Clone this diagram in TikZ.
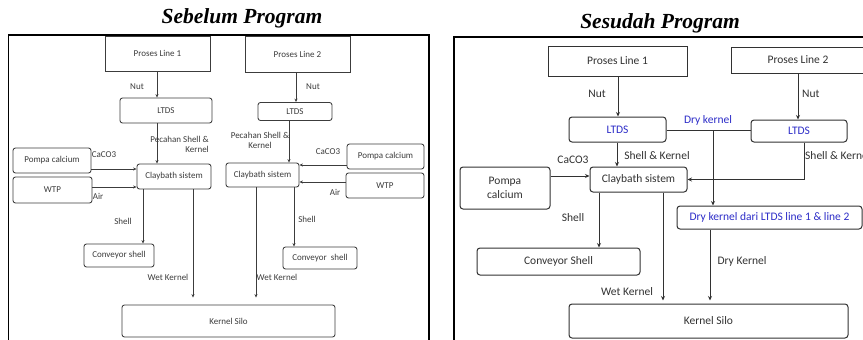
\documentclass[tikz,border=0pt]{standalone}
\usepackage{fontspec}
\setmainfont{Carlito}
\newfontfamily\titlefont{Liberation Serif}
\usetikzlibrary{arrows.meta}
\definecolor{ink}{RGB}{50,50,50}
\definecolor{lteal}{RGB}{60,60,60}
\definecolor{dkblue}{RGB}{45,45,200}
\tikzset{
  smallfont/.style={font=\fontsize{9}{10.5}\selectfont},
  bigfont/.style={font=\fontsize{11.5}{13.5}\selectfont},
  lbox/.style={draw=lteal, line width=0.85pt, rounded corners=2.5pt, inner sep=0pt,
    text=lteal, smallfont},
  lsq/.style={lbox, rounded corners=0pt},
  llbl/.style={inner sep=0pt, text=lteal, smallfont},
  larr/.style={draw=lteal, line width=0.85pt, -{Stealth[length=3.5pt,width=3pt]}},
  rbox/.style={draw=ink, line width=1pt, rounded corners=3pt, inner sep=0pt,
    text=ink, bigfont},
  rsq/.style={rbox, rounded corners=0pt},
  rlbl/.style={inner sep=0pt, text=ink, bigfont},
  rline/.style={draw=ink, line width=1pt},
  rarr/.style={rline, -{Stealth[length=4.5pt,width=4pt]}},
  frame/.style={draw=black, line width=1.4pt},
  heading/.style={inner sep=0pt, font=\titlefont\bfseries\itshape\fontsize{21.5}{24}\selectfont}
}
\begin{document}
\begin{tikzpicture}[x=1pt,y=-1pt]
\useasboundingbox (0,0) rectangle (863,340);
\clip (0,0) rectangle (863,340);
\fill[white] (0,0) rectangle (863,340);

% ---------------- before the programme ----------------
\node[heading] (t1) at (242,18) {Sebelum Program};
\draw[frame] (8.5,35) rectangle (429,360);

\node[lsq, minimum width=105pt, minimum height=35pt] (p1) at (157.5,53.5) {Proses Line 1};
\node[lsq, minimum width=105pt, minimum height=36pt] (p2) at (297.5,54) {Proses Line 2};
\node[lbox, minimum width=92pt, minimum height=25pt] (l1) at (166,110.5) {LTDS};
\node[lbox, minimum width=74pt, minimum height=18pt] (l2) at (295,111.5) {LTDS};
\node[lbox, minimum width=74pt, minimum height=25pt] (c1) at (174,176.5) {Claybath sistem};
\node[lbox, minimum width=73pt, minimum height=24pt] (c2) at (262.5,175) {Claybath sistem};
\node[lbox, minimum width=78pt, minimum height=25pt] (pc1) at (52,160.5) {Pompa calcium};
\node[lbox, minimum width=79pt, minimum height=26pt] (w1) at (52.5,190) {WTP};
\node[lbox, minimum width=77pt, minimum height=25pt] (pc2) at (385.5,156.5) {Pompa calcium};
\node[lbox, minimum width=78pt, minimum height=25pt] (w2) at (385,185.5) {WTP};
\node[lbox, minimum width=70pt, minimum height=23pt] (cs1) at (119,255.5) {Conveyor shell};
\node[lbox, minimum width=74pt, minimum height=22pt] (cs2) at (320,258) {Conveyor\ \ shell};
\node[lbox, minimum width=213pt, minimum height=32pt] (ks) at (228.5,321) {Kernel Silo};

\draw[larr] (p1.south -| 157,0) -- (l1.north -| 157,0);
\draw[larr] (p2.south -| 296,0) -- (l2.north -| 296,0);
\draw[larr] (l1.south -| 157,0) -- (c1.north -| 157,0);
\draw[larr] (l2.south -| 289,0) -- (c2.north -| 289,0);
\draw[larr] (pc1.east |- 0,169) -- (c1.west |- 0,169);
\draw[larr] (w1.east |- 0,187) -- (c1.west |- 0,187);
\draw[larr] (pc2.west |- 0,165) -- (c2.east |- 0,165);
\draw[larr] (w2.west |- 0,182) -- (c2.east |- 0,182);
\draw[larr] (c1.south -| 143,0) -- (cs1.north -| 143,0);
\draw[larr] (c2.south -| 294,0) -- (cs2.north -| 294,0);
\draw[larr, shorten >=7pt] (c1.south -| 193,0) -- (ks.north -| 193,0);
\draw[larr, shorten >=7pt] (c2.south -| 256,0) -- (ks.north -| 256,0);

\node[llbl] (n1) at (137,87) {Nut};
\node[llbl] (n2) at (313,87) {Nut};
\node[llbl, align=right, anchor=east] (pk1) at (209,144.5) {Pecahan Shell \&\\Kernel};
\node[llbl, align=center] (pk2) at (260,140.5) {Pecahan Shell \&\\Kernel};
\node[llbl] (ca1) at (104,155) {CaCO3};
\node[llbl] (a1) at (98,196) {Air};
\node[llbl] (ca2) at (328,152) {CaCO3};
\node[llbl] (a2) at (335,192) {Air};
\node[llbl] (s1) at (123,221) {Shell};
\node[llbl] (s2) at (307,219) {Shell};
\node[llbl] (wk1) at (168,277) {Wet Kernel};
\node[llbl] (wk2) at (277,277) {Wet Kernel};

% ---------------- after the programme ----------------
\node[heading] (t2) at (660,23) {Sesudah Program};
\draw[frame] (454,37) rectangle (900,360);

\node[rsq, minimum width=139pt, minimum height=30pt] (rp1) at (617.5,61) {Proses Line 1};
\node[rsq, minimum width=134pt, minimum height=26pt] (rp2) at (798,60) {Proses Line 2};
\node[rbox, text=dkblue, minimum width=97pt, minimum height=25pt] (rl1) at (617.5,129.5) {LTDS};
\node[rbox, text=dkblue, minimum width=96pt, minimum height=22pt] (rl2) at (799,131) {LTDS};
\node[rbox, minimum width=97pt, minimum height=25pt] (rc) at (638.5,179.5) {Claybath sistem};
\node[rbox, align=center, minimum width=90pt, minimum height=42pt] (rpc) at (505,188) {Pompa\\calcium};
\node[rbox, text=dkblue, minimum width=185pt, minimum height=23pt] (rdk) at (769.5,217.5) {Dry kernel dari LTDS line 1 \& line 2};
\node[rbox, minimum width=163pt, minimum height=27pt] (rcs) at (558.5,261.5) {Conveyor Shell};
\node[rbox, minimum width=279pt, minimum height=34pt] (rks) at (708.5,321) {Kernel Silo};

\draw[rarr] (rp1.south -| 618,0) -- (rl1.north -| 618,0);
\draw[rarr] (rp2.south -| 798,0) -- (rl2.north -| 798,0);
\draw[rline] (rl1.east |- 0,130) -- (rl2.west |- 0,130);
\coordinate (dkj) at (713,130);
\draw[rarr] (dkj) -- (rdk.north -| dkj);
\draw[rarr] (rl1.south -| 617,0) -- (rc.north -| 617,0);
\draw[rarr] (rpc.east |- 0,176) -- (rc.west |- 0,176);
\draw[rarr] (rl2.south -| 804,0) |- (rc.east);
\draw[rarr] (rc.south -| 599,0) -- (rcs.north -| 599,0);
\draw[rarr, shorten >=3pt] (rc.south -| 663,0) -- (rks.north -| 663,0);
\draw[rarr, shorten >=3pt] (rdk.south -| 710,0) -- (rks.north -| 710,0);

\node[rlbl] (rn1) at (597,94) {Nut};
\node[rlbl, anchor=west] (rn2) at (802,94) {Nut};
\node[rlbl, text=dkblue] (rdkl) at (708,120) {Dry kernel};
\node[rlbl] (rca) at (573,160) {CaCO3};
\node[rlbl] (rsk1) at (657,156) {Shell \& Kernel};
\node[rlbl, anchor=west] (rsk2) at (805,156) {Shell \& Kernel};
\node[rlbl] (rs) at (573,218) {Shell};
\node[rlbl] (rdkk) at (742,261) {Dry Kernel};
\node[rlbl] (rwk) at (627,292) {Wet Kernel};
\end{tikzpicture}
\end{document}
